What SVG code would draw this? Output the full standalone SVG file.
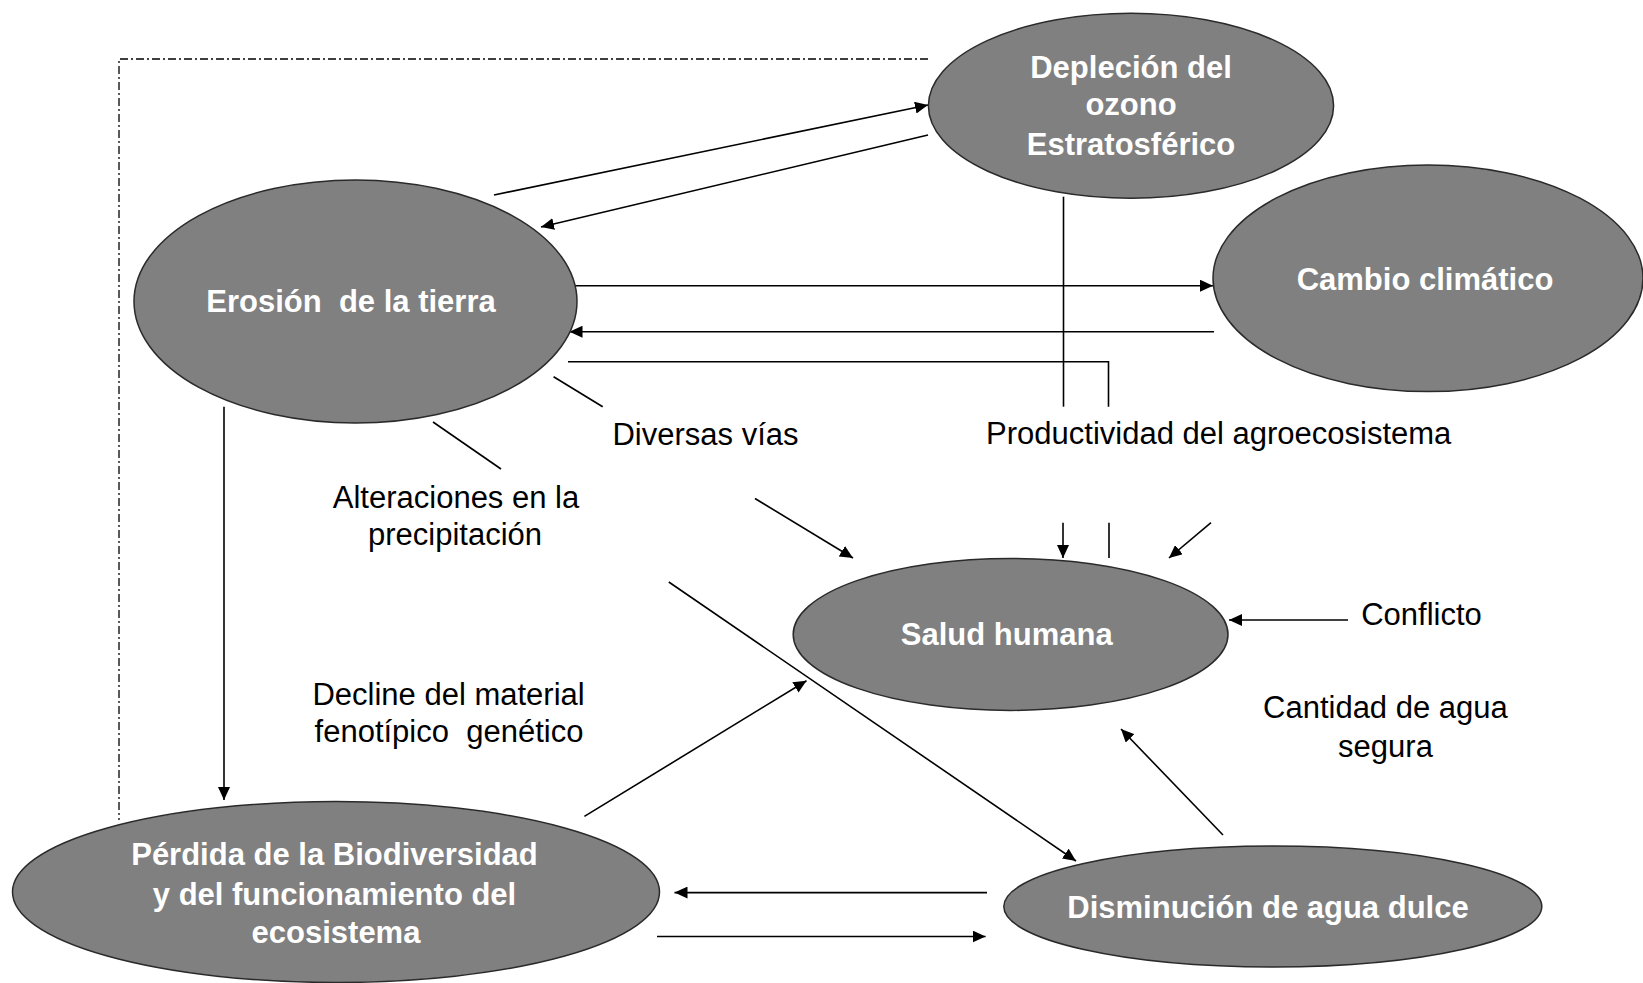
<svg xmlns="http://www.w3.org/2000/svg" width="1643" height="983" viewBox="0 0 1643 983">
<style>
.node{fill:#808080;stroke:#2a2a2a;stroke-width:1.5}
.nt{font-family:"Liberation Sans",Arial,sans-serif;font-weight:bold;font-size:31px;fill:#ffffff;text-anchor:middle;white-space:pre}
.lt{font-family:"Liberation Sans",Arial,sans-serif;font-size:31px;fill:#000000;text-anchor:middle;white-space:pre}
.c{stroke:#000;stroke-width:1.6;fill:none}
.a{marker-end:url(#ah)}
.d{stroke:#000;stroke-width:1.3;fill:none;stroke-dasharray:8 3 2 3}
</style>
<defs>
<marker id="ah" markerUnits="userSpaceOnUse" markerWidth="14" markerHeight="12" refX="13" refY="6" orient="auto">
<path d="M0,0 L13,6 L0,12 z" fill="#000"/>
</marker>
</defs>
<rect width="1643" height="983" fill="#ffffff"/>
<g id="connectors">
<polyline class="d" points="928,59 119,59 119,820"/>
<line class="c a" x1="494" y1="195" x2="928" y2="105"/>
<line class="c a" x1="928" y1="135" x2="541" y2="227"/>
<line class="c a" x1="568" y1="285.7" x2="1213" y2="285.7"/>
<line class="c a" x1="1214" y1="331.7" x2="569.5" y2="331.7"/>
<polyline class="c" points="568,361.7 1108.5,361.7 1108.5,406.7"/>
<line class="c" x1="1063.5" y1="196.7" x2="1063.5" y2="406.7"/>
<line class="c a" x1="1063" y1="522.7" x2="1063" y2="558"/>
<line class="c" x1="1109" y1="522.7" x2="1109" y2="558"/>
<line class="c a" x1="1211" y1="522.7" x2="1169" y2="558"/>
<line class="c" x1="553.6" y1="376.7" x2="602.7" y2="406.7"/>
<line class="c a" x1="755" y1="498.5" x2="853" y2="558"/>
<line class="c" x1="433" y1="422" x2="501" y2="469"/>
<line class="c a" x1="668.8" y1="582" x2="1076" y2="861"/>
<line class="c a" x1="224" y1="406.7" x2="224" y2="800"/>
<line class="c a" x1="584.4" y1="816.4" x2="806.5" y2="680.7"/>
<line class="c a" x1="1348" y1="620" x2="1229" y2="620"/>
<line class="c a" x1="1223" y1="835" x2="1121" y2="729"/>
<line class="c a" x1="987" y1="892.6" x2="674.5" y2="892.6"/>
<line class="c a" x1="657" y1="936.5" x2="985.6" y2="936.5"/>
</g>
<g id="erosion">
<ellipse class="node" cx="355.5" cy="301.5" rx="221.5" ry="121.5"/>
<text class="nt" x="351" y="312">Erosión  de la tierra</text>
</g>
<g id="ozono">
<ellipse class="node" cx="1131" cy="105.8" rx="202.6" ry="92.5"/>
<text class="nt" x="1131" y="78">Depleción del</text>
<text class="nt" x="1131" y="115">ozono</text>
<text class="nt" x="1131" y="155">Estratosférico</text>
</g>
<g id="cambio">
<ellipse class="node" cx="1428" cy="278.3" rx="215" ry="113.3"/>
<text class="nt" x="1425" y="290">Cambio climático</text>
</g>
<g id="salud">
<ellipse class="node" cx="1010.6" cy="634.4" rx="217.4" ry="76"/>
<text class="nt" x="1006.7" y="645">Salud humana</text>
</g>
<g id="disminucion">
<ellipse class="node" cx="1272.8" cy="906.5" rx="269" ry="60.5"/>
<text class="nt" x="1268" y="918">Disminución de agua dulce</text>
</g>
<g id="perdida">
<ellipse class="node" cx="336" cy="892" rx="323.5" ry="90.5"/>
<text class="nt" x="334.5" y="865">Pérdida de la Biodiversidad</text>
<text class="nt" x="334.5" y="905">y del funcionamiento del</text>
<text class="nt" x="336" y="943">ecosistema</text>
</g>
<g id="labels">
<text class="lt" x="705.5" y="444.6">Diversas vías</text>
<text class="lt" x="1218.7" y="444">Productividad del agroecosistema</text>
<text class="lt" x="456" y="508">Alteraciones en la</text>
<text class="lt" x="455" y="545">precipitación</text>
<text class="lt" x="448.6" y="705">Decline del material</text>
<text class="lt" x="449" y="742">fenotípico  genético</text>
<text class="lt" x="1421.5" y="625">Conflicto</text>
<text class="lt" x="1385.4" y="718">Cantidad de agua</text>
<text class="lt" x="1385.5" y="757">segura</text>
</g>
</svg>
